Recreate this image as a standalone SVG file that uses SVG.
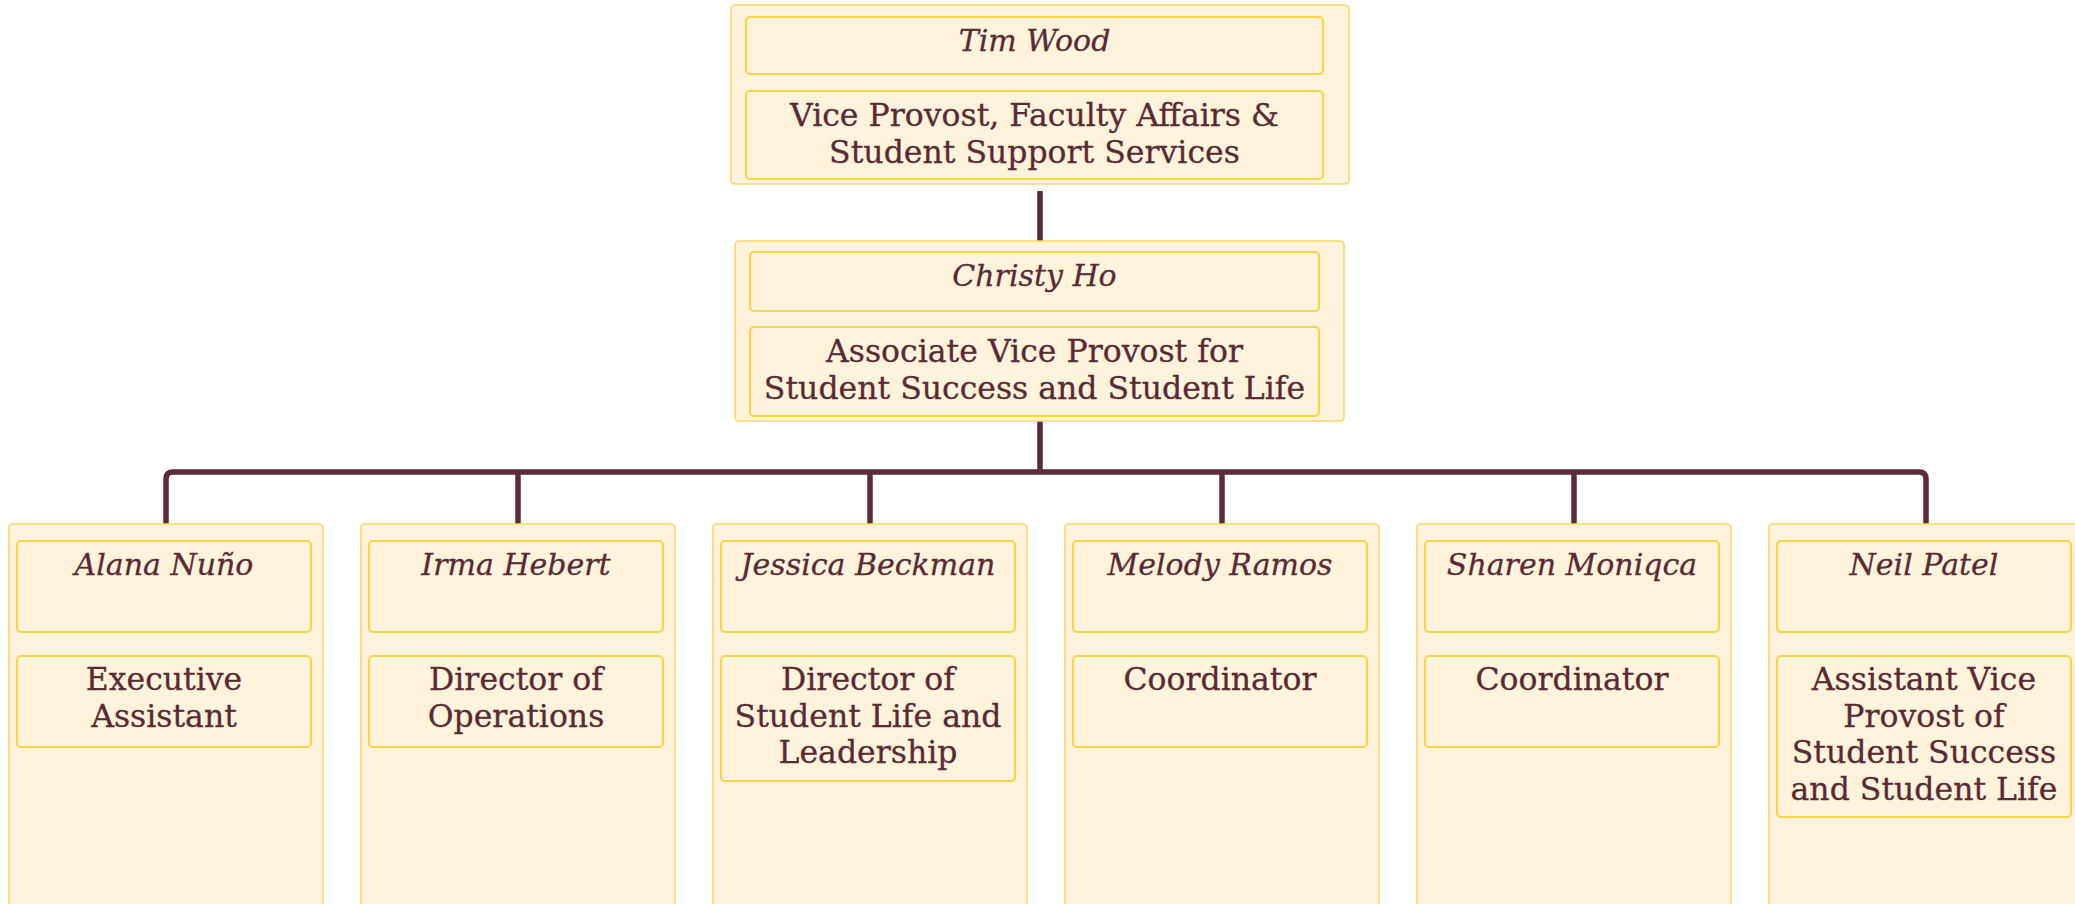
<svg xmlns="http://www.w3.org/2000/svg" width="2075" height="904" viewBox="0 0 2075 904">
<style>
.outer{fill:#fff4db;stroke:#fad866;stroke-width:1.6}
.inner{fill:#fff4db;stroke:#fcd448;stroke-width:2.2}
.name{font-family:"DejaVu Serif","Liberation Serif",serif;font-style:italic;font-size:30px;fill:#5a2a36;stroke:#5a2a36;stroke-width:0.3;text-anchor:middle}
.title{font-family:"DejaVu Serif","Liberation Serif",serif;font-size:31.5px;fill:#5a2a36;stroke:#5a2a36;stroke-width:0.3;text-anchor:middle}
.conn{fill:none;stroke:#5c2b38;stroke-width:5.5;stroke-linejoin:round}
</style>
<rect width="2075" height="904" fill="#ffffff"/>
<g id="connectors">
<path class="conn" d="M1040 191 V241"/>
<path class="conn" d="M1040 421 V472"/>
<path class="conn" d="M166 524 V479 Q166 472 173 472 H1919 Q1926 472 1926 479 V524"/>
<path class="conn" d="M518 472 V524"/>
<path class="conn" d="M870 472 V524"/>
<path class="conn" d="M1222 472 V524"/>
<path class="conn" d="M1574 472 V524"/>
</g>
<g id="tim-wood">
<rect class="outer" x="731" y="5" width="618" height="179" rx="4"/>
<rect class="inner" x="746" y="17" width="577" height="57" rx="4"/>
<rect class="inner" x="746" y="91" width="577" height="88" rx="4"/>
<text class="name" x="1034.5" y="51">Tim Wood</text>
<text class="title" x="1034.5" y="126"><tspan x="1034.5" y="126">Vice Provost, Faculty Affairs &amp;</tspan><tspan x="1034.5" y="162.5">Student Support Services</tspan></text>
</g>
<g id="christy-ho">
<rect class="outer" x="735" y="241" width="609" height="180" rx="4"/>
<rect class="inner" x="750" y="252" width="569" height="59" rx="4"/>
<rect class="inner" x="750" y="327" width="569" height="89" rx="4"/>
<text class="name" x="1034.5" y="286">Christy Ho</text>
<text class="title" x="1034.5" y="362"><tspan x="1034.5" y="362">Associate Vice Provost for</tspan><tspan x="1034.5" y="398.5">Student Success and Student Life</tspan></text>
</g>
<g id="alana-nuno">
<rect class="outer" x="9" y="524" width="314" height="400" rx="4"/>
<rect class="inner" x="17" y="541" width="294" height="91" rx="4"/>
<rect class="inner" x="17" y="656" width="294" height="91" rx="4"/>
<text class="name" x="164" y="575">Alana Nuño</text>
<text class="title" x="164" y="690"><tspan x="164" y="690">Executive</tspan><tspan x="164" y="726.5">Assistant</tspan></text>
</g>
<g id="irma-hebert">
<rect class="outer" x="361" y="524" width="314" height="400" rx="4"/>
<rect class="inner" x="369" y="541" width="294" height="91" rx="4"/>
<rect class="inner" x="369" y="656" width="294" height="91" rx="4"/>
<text class="name" x="516" y="575">Irma Hebert</text>
<text class="title" x="516" y="690"><tspan x="516" y="690">Director of</tspan><tspan x="516" y="726.5">Operations</tspan></text>
</g>
<g id="jessica-beckman">
<rect class="outer" x="713" y="524" width="314" height="400" rx="4"/>
<rect class="inner" x="721" y="541" width="294" height="91" rx="4"/>
<rect class="inner" x="721" y="656" width="294" height="125" rx="4"/>
<text class="name" x="868" y="575">Jessica Beckman</text>
<text class="title" x="868" y="690"><tspan x="868" y="690">Director of</tspan><tspan x="868" y="726.5">Student Life and</tspan><tspan x="868" y="763">Leadership</tspan></text>
</g>
<g id="melody-ramos">
<rect class="outer" x="1065" y="524" width="314" height="400" rx="4"/>
<rect class="inner" x="1073" y="541" width="294" height="91" rx="4"/>
<rect class="inner" x="1073" y="656" width="294" height="91" rx="4"/>
<text class="name" x="1220" y="575">Melody Ramos</text>
<text class="title" x="1220" y="690">Coordinator</text>
</g>
<g id="sharen-moniqca">
<rect class="outer" x="1417" y="524" width="314" height="400" rx="4"/>
<rect class="inner" x="1425" y="541" width="294" height="91" rx="4"/>
<rect class="inner" x="1425" y="656" width="294" height="91" rx="4"/>
<text class="name" x="1572" y="575">Sharen Moniqca</text>
<text class="title" x="1572" y="690">Coordinator</text>
</g>
<g id="neil-patel">
<rect class="outer" x="1769" y="524" width="314" height="400" rx="4"/>
<rect class="inner" x="1777" y="541" width="294" height="91" rx="4"/>
<rect class="inner" x="1777" y="656" width="294" height="161" rx="4"/>
<text class="name" x="1924" y="575">Neil Patel</text>
<text class="title" x="1924" y="690"><tspan x="1924" y="690">Assistant Vice</tspan><tspan x="1924" y="726.5">Provost of</tspan><tspan x="1924" y="763">Student Success</tspan><tspan x="1924" y="799.5">and Student Life</tspan></text>
</g>
</svg>
